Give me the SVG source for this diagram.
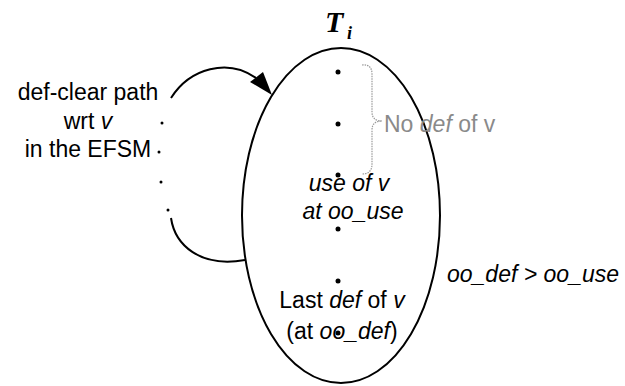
<svg xmlns="http://www.w3.org/2000/svg" width="625" height="386" viewBox="0 0 625 386">
<style>
.t{font-family:"Liberation Sans",Arial,sans-serif;font-size:23px;fill:#000}
.i{font-style:italic}
.g{fill:#8a8a8a}
.ln{fill:none;stroke:#000;stroke-width:2}
.d{fill:#000}
</style>
<rect width="625" height="386" fill="#fff"/>
<g id="title">
<text x="325" y="32" font-family="'Liberation Serif',serif" font-weight="bold" font-style="italic" font-size="30">T</text>
<text x="347" y="39" font-family="'Liberation Serif',serif" font-weight="bold" font-style="italic" font-size="18">i</text>
</g>
<g id="state">
<ellipse cx="341" cy="215.5" rx="99" ry="167.5" class="ln"/>
<circle cx="338" cy="72" r="2.5" class="d"/>
<circle cx="338" cy="124" r="2.5" class="d"/>
<circle cx="338" cy="175" r="2.5" class="d"/>
<circle cx="338" cy="229" r="2.5" class="d"/>
<circle cx="338" cy="281" r="2.5" class="d"/>
<circle cx="338" cy="333" r="2.5" class="d"/>
<text class="t i" x="349" y="191" text-anchor="middle">use of v</text>
<text class="t i" x="353" y="219" text-anchor="middle">at oo_use</text>
<text class="t" x="342" y="308" text-anchor="middle">Last <tspan class="i">def</tspan> of <tspan class="i">v</tspan></text>
<text class="t" x="342" y="339" text-anchor="middle">(at <tspan class="i">oo_def</tspan>)</text>
</g>
<g id="nodef">
<path d="M362,65 Q372,64 372,74 L372,112 Q372,121 382,121 Q372,121 372,130 L372,164 Q372,174 362,174" fill="none" stroke="#999" stroke-width="1.2" stroke-dasharray="1.5,1"/>
<text class="t g" x="384" y="132">No <tspan class="i">def</tspan> of v</text>
</g>
<g id="path-label">
<text class="t" x="88" y="100" text-anchor="middle">def-clear path</text>
<text class="t" x="88" y="129" text-anchor="middle">wrt <tspan class="i">v</tspan></text>
<text class="t" x="88" y="157" text-anchor="middle">in the EFSM</text>
<circle cx="162" cy="123" r="1.5" class="d"/>
<circle cx="159" cy="152" r="1.5" class="d"/>
<circle cx="161" cy="182" r="1.5" class="d"/>
<circle cx="168" cy="210" r="1.5" class="d"/>
</g>
<g id="connectors">
<path d="M171,98 C190,68 228,58 256,78" class="ln"/>
<polygon points="272,95 250,82 263,72" class="d"/>
<path d="M171,218 C175,245 200,268 245,260" class="ln"/>
</g>
<g id="condition">
<text class="t i" x="447" y="282">oo_def &gt; oo_use</text>
</g>
</svg>
